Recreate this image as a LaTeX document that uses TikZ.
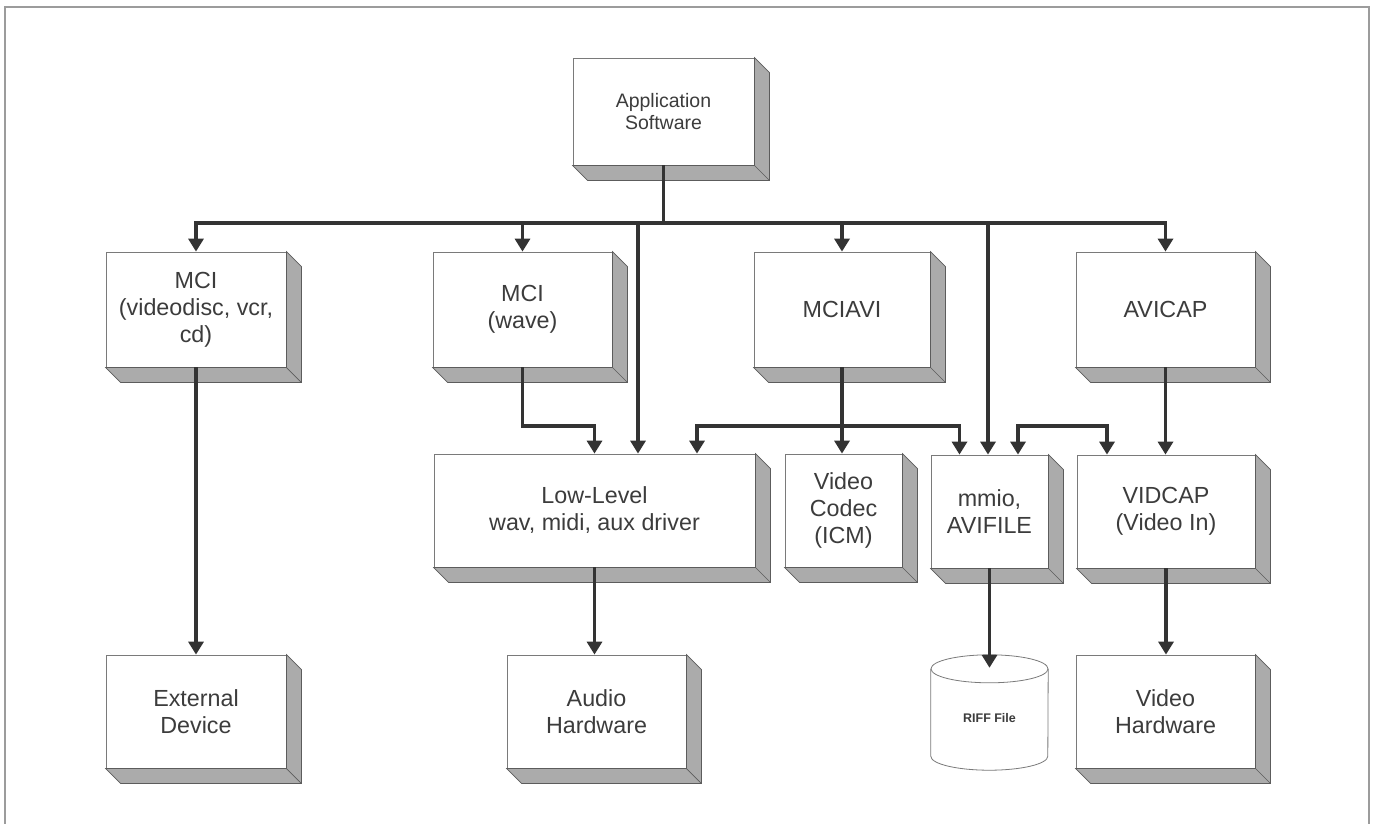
\documentclass[tikz,border=0pt]{standalone}
\usepackage{fontspec}
\setmainfont{Liberation Sans}
\usetikzlibrary{arrows.meta}

\definecolor{ink}{HTML}{3C3C3C}
\definecolor{wirecol}{HTML}{333333}
\definecolor{facedge}{HTML}{7A7A7A}
\definecolor{sidefill}{HTML}{ABABAB}
\definecolor{sideedge}{HTML}{5C5C5C}
\definecolor{framegray}{HTML}{9C9C9C}

\tikzset{
  block/.style={draw=facedge, line width=0.8pt, fill=white, text=ink,
    align=center, inner sep=0pt, font=\fontsize{23.3}{27}\selectfont},
  sz/.style 2 args={minimum width=#1, minimum height=#2},
  sideface/.style={fill=sidefill, draw=sideedge, line width=0.7pt, line join=miter},
  wire/.style={draw=wirecol, line width=3.5pt},
  arr/.style={wire, -{Triangle[width=15pt,length=13pt]}},
  biarr/.style={wire, {Triangle[width=15pt,length=13pt]}-{Triangle[width=15pt,length=13pt]}},
  drum/.style={draw=facedge, line width=0.8pt, fill=white},
  frameline/.style={draw=framegray, line width=2pt}
}

\begin{document}
\begin{tikzpicture}[x=1pt,y=-1pt]
  \useasboundingbox (0,0) rectangle (1374,823);
  \fill[white] (0,0) rectangle (1374,823);
  \draw[frameline] (5,840) -- (5,7) -- (1369,7) -- (1369,840);

  % front faces of the blocks
  \node[block, sz={181pt}{107pt}, font=\fontsize{19.5}{22}\selectfont] (app) at (663.5,111.5) {Application\\Software};

  \node[block, sz={180pt}{115pt}] (mci1)   at (196,309.5)  {MCI\\(videodisc, vcr,\\cd)};
  \node[block, sz={179pt}{115pt}] (mci2)   at (522.5,309.5){MCI\\(wave)};
  \node[block, sz={176pt}{115pt}] (mciavi) at (842,309.5)  {MCIAVI};
  \node[block, sz={179pt}{115pt}] (avicap) at (1165.5,309.5){AVICAP};

  \node[block, sz={321pt}{113pt}] (low)    at (594.5,510.5) {Low-Level\\wav, midi, aux driver};
  \node[block, sz={117pt}{113pt}] (codec)  at (843.5,510.5) {Video\\Codec\\(ICM)};
  \node[block, sz={117pt}{113pt}] (mmio)   at (989.5,511.5) {mmio,\\AVIFILE};
  \node[block, sz={178pt}{113pt}] (vidcap) at (1166,511.5)  {VIDCAP\\(Video In)};

  \node[block, sz={180pt}{113pt}] (ext)    at (196,711.5)   {External\\Device};
  \node[block, sz={179pt}{113pt}] (audio)  at (596.5,711.5) {Audio\\Hardware};
  \node[block, sz={179pt}{113pt}] (vidhw)  at (1165.5,711.5){Video\\Hardware};

  % extruded sides of the blocks
  \foreach \n in {app,mci1,mci2,mciavi,avicap,low,codec,mmio,vidcap,ext,audio,vidhw}{
    \filldraw[sideface] (\n.north east) -- ++(15,15)
      -- ([shift={(15pt,-15pt)}]\n.south east)
      -- ([shift={(15pt,-15pt)}]\n.south west)
      -- (\n.south west) -- (\n.south east) -- cycle;
    \draw[sideface, fill=none] (\n.south east) -- ++(15,15);
  }

  % file drum
  \node[inner sep=0pt, sz={117pt}{115pt}] (riff) at (989.5,712.5) {};
  \filldraw[drum] ([yshift=-14pt]riff.north west) -- ([yshift=14pt]riff.south west)
    arc[start angle=180, end angle=360, x radius=58.5pt, y radius=14pt]
    -- ([yshift=-14pt]riff.north east);
  \filldraw[drum] ([yshift=-14pt]riff.north) ellipse [x radius=58.5pt, y radius=14pt];
  \node[text=ink, font=\fontsize{12.5}{14}\selectfont\bfseries] (riffname) at ([yshift=-6pt]riff.center) {RIFF File};

  % connectors
  \coordinate (busy) at (0,223);
  \coordinate (midy) at (0,426);

  \draw[wire] (app.south) -- (app.south |- busy);
  \draw[arr] (app.south |- busy) -- (mci1.north |- busy) -- (mci1.north);
  \draw[arr] (app.south |- busy) -- (avicap.north |- busy) -- (avicap.north);
  \draw[arr] (mci2.north |- busy) -- (mci2.north);
  \draw[arr] ([xshift=43.5pt]low.north |- busy) -- ([xshift=43.5pt]low.north);
  \draw[arr] (mciavi.north |- busy) -- (mciavi.north);
  \draw[arr] ([xshift=-1.5pt]mmio.north |- busy) -- ([xshift=-1.5pt]mmio.north);

  \draw[arr] (mci1.south) -- (ext.north);
  \draw[arr] (mci2.south) -- (mci2.south |- midy) -| (low.north);
  \draw[arr] (mciavi.south) -- (mciavi.south |- codec.north);
  \draw[arr] (mciavi.south |- midy) -- ([xshift=102.5pt]low.north |- midy)
    -- ([xshift=102.5pt]low.north);
  \draw[arr] (mciavi.south |- midy) -- ([xshift=-30pt]mmio.north |- midy)
    -- ([xshift=-30pt]mmio.north);
  \draw[biarr] ([xshift=28.5pt]mmio.north) -- ([xshift=28.5pt]mmio.north |- midy)
    -- ([xshift=-59pt]vidcap.north |- midy) -- ([xshift=-59pt]vidcap.north);
  \draw[arr] (avicap.south) -- (avicap.south |- vidcap.north);

  \draw[arr] (low.south) -- (low.south |- audio.north);
  \draw[arr] (mmio.south) -- ([yshift=-13pt]riff.north);
  \draw[arr] (vidcap.south) -- (vidcap.south |- vidhw.north);
\end{tikzpicture}
\end{document}
